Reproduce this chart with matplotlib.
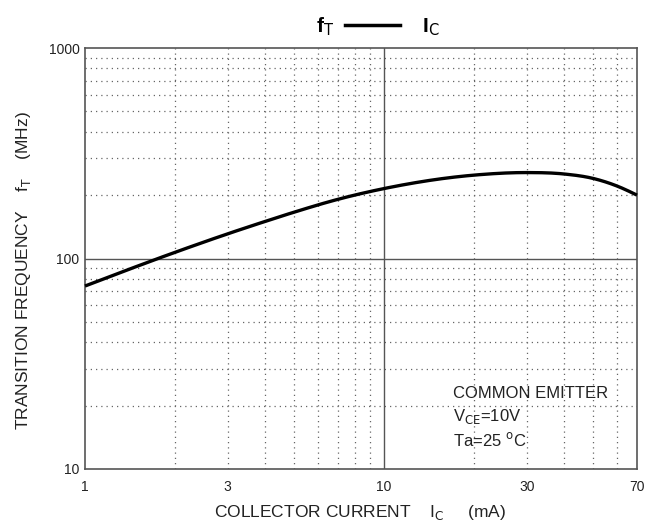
import matplotlib
matplotlib.use("Agg")
import matplotlib.pyplot as plt
import numpy as np

ic_ma = [1, 2, 3, 4, 5, 7, 10, 20, 30, 40, 50, 60, 70]
ft_mhz = [74, 107, 131, 150, 166, 191, 215, 249, 256, 252, 240, 221, 200]
x_ticks = [1, 3, 10, 30, 70]
x_tick_labels = ["1", "3", "10", "30", "70"]
y_ticks = [10, 100, 1000]
y_tick_labels = ["10", "100", "1000"]

plt.rcParams['font.family'] = ['Liberation Sans', 'DejaVu Sans']

fig = plt.figure(figsize=(6.56, 5.26), dpi=100)
ax = fig.add_axes([85/656, 1-469/526, (637-85)/656, (469-48)/526])
ax.set_xscale('log')
ax.set_yscale('log')
ax.set_xlim(1, 70)
ax.set_ylim(10, 1000)

# smooth curve through the read points (cubic Hermite in log space)
lx = np.log10(ic_ma)
ly = np.log10(ft_mhz)
def hermite(xp, yp, xq):
    xp = np.asarray(xp); yp = np.asarray(yp)
    n = len(xp)
    d = np.diff(yp) / np.diff(xp)
    m = np.zeros(n)
    h = np.diff(xp)
    m[1:-1] = (d[:-1]*h[1:] + d[1:]*h[:-1]) / (h[:-1] + h[1:])
    m[0] = d[0] + (d[0] - m[1]) * 0.5
    m[-1] = d[-1] + (d[-1] - m[-2]) * 0.5
    out = np.empty_like(xq)
    for i, x in enumerate(xq):
        k = min(np.searchsorted(xp, x, side='right') - 1, n - 2)
        hk = xp[k+1] - xp[k]
        t = (x - xp[k]) / hk
        h00 = 2*t**3 - 3*t**2 + 1
        h10 = t**3 - 2*t**2 + t
        h01 = -2*t**3 + 3*t**2
        h11 = t**3 - t**2
        out[i] = h00*yp[k] + h10*hk*m[k] + h01*yp[k+1] + h11*hk*m[k+1]
    return out
xs = np.linspace(lx[0], lx[-1], 400)
ys = hermite(lx, ly, xs)
ax.plot(10**xs, 10**ys, color='black', lw=2.4, solid_capstyle='butt', zorder=5, clip_on=False)

# grids
minor_x = [2, 3, 4, 5, 6, 7, 8, 9, 20, 30, 40, 50, 60]
minor_y = [20, 30, 40, 50, 60, 70, 80, 90, 200, 300, 400, 500, 600, 700, 800, 900]
for v in minor_x:
    ax.axvline(v, color='#666666', lw=0.9, ls=(0, (1, 3.2)), zorder=1)
for v in minor_y:
    ax.axhline(v, color='#666666', lw=0.9, ls=(0, (1, 3.2)), zorder=1)
ax.axvline(10, color='#555555', lw=1.0, zorder=2)
ax.axhline(100, color='#555555', lw=1.0, zorder=2)

for s in ax.spines.values():
    s.set_color('#555555')
    s.set_linewidth(1.2)

ax.set_xticks(x_ticks)
ax.set_xticklabels(x_tick_labels)
ax.set_yticks(y_ticks)
ax.set_yticklabels(y_tick_labels)
ax.minorticks_off()
ax.tick_params(length=0, labelsize=10, pad=8, colors='#222222')
ax.tick_params(axis='y', pad=4)

fig.text(360/656, 1-512/526, r"COLLECTOR CURRENT    I$_{\rm C}$     (mA)",
         ha='center', va='center', fontsize=12.5, color='#222222')
fig.text(24/656, 1-271/526, r"TRANSITION FREQUENCY    f$_{\rm T}$    (MHz)",
         ha='center', va='center', rotation=90, fontsize=12.5, color='#222222')

# title
fig.text(325/656, 1-27/526, r"f$_{\rm T}$", ha='center', va='center', fontsize=15, fontweight='bold')
fig.add_artist(plt.Line2D([345/656, 400/656], [1-25/526, 1-25/526], color='black', lw=2.5))
fig.text(431/656, 1-27/526, r"I$_{\rm C}$", ha='center', va='center', fontsize=15, fontweight='bold')

fig.text(453/656, 1-393/526, "COMMON EMITTER",
         ha='left', va='center', fontsize=12, color='#222222')
fig.text(453/656, 1-416/526, r"V$_{\rm CE}$=10V",
         ha='left', va='center', fontsize=12, color='#222222')
fig.text(453/656, 1-440/526, r"Ta=25 $^{\rm o}$C",
         ha='left', va='center', fontsize=12, color='#222222')

fig.savefig("out.png", dpi=100)
